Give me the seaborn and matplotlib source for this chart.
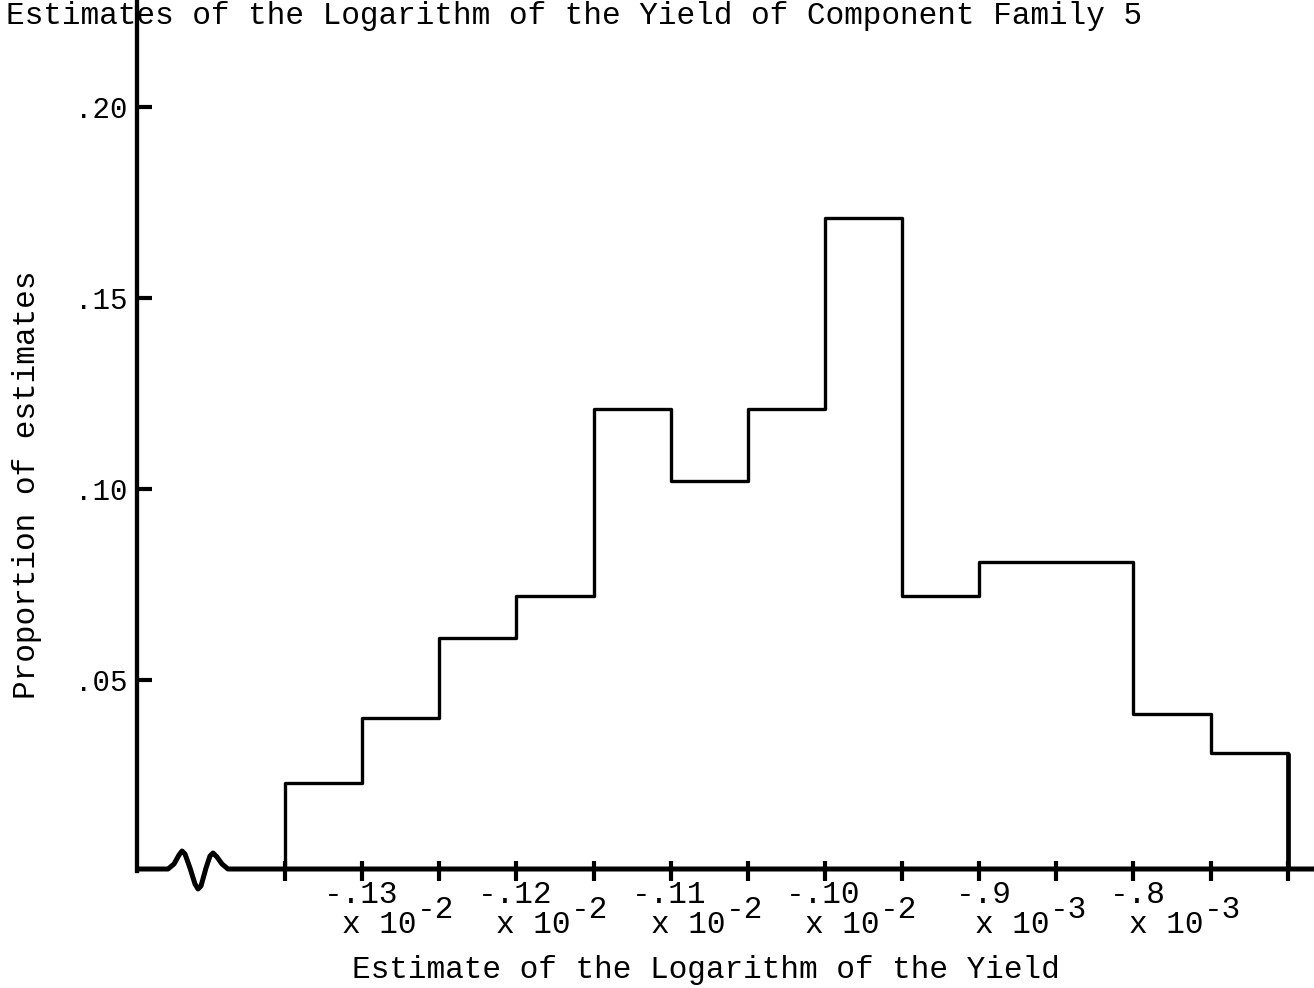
import numpy as np
import pandas as pd
import matplotlib
matplotlib.use("Agg")
import matplotlib.pyplot as plt
from matplotlib.lines import Line2D
import seaborn as sns

# proportion of estimates falling in each class
proportions = [0.023, 0.040, 0.061, 0.072, 0.121, 0.102, 0.121,
               0.171, 0.072, 0.081, 0.081, 0.041, 0.031]
bin_edges = list(range(len(proportions) + 1))    # equal-width class boundaries
bin_mids = [e + 0.5 for e in bin_edges[:-1]]

ytick_vals = [0.05, 0.10, 0.15, 0.20]
ytick_text = [".05", ".10", ".15", ".20"]

xlab_main = ["-.13", "-.12", "-.11", "-.10", "-.9", "-.8"]
xlab_exp = ["-2", "-2", "-2", "-2", "-3", "-3"]
xlab_pos = [0.5, 2.5, 4.5, 6.5, 8.7, 10.7]        # where each typed label starts

title = "Estimates of the Logarithm of the Yield of Component Family 5"
xtitle = "Estimate of the Logarithm of the Yield"
ytitle = "Proportion of estimates"

df = pd.DataFrame({"bin": bin_mids, "prop": proportions})

sns.set_theme(style="white")
plt.rcParams["font.family"] = ["Liberation Mono", "DejaVu Sans Mono"]
FS = 22.4
CH = 0.6 * FS   # monospace advance, points

W, H = 1314, 988
fig = plt.figure(figsize=(W / 100, H / 100), dpi=100)
ax = fig.add_axes([137 / W, 117 / H, 1177 / W, 871 / H])

sns.histplot(data=df, x="bin", weights="prop", bins=bin_edges,
             element="step", fill=False, color="black", linewidth=2.4, ax=ax)
# close the outline at both ends
ax.vlines([bin_edges[0], bin_edges[-1]], 0, [proportions[0], proportions[-1]],
          color="black", linewidth=[2.4, 3.4])

ax.set_xlim(-1.918, 13.34)
ax.set_ylim(0, 0.228)

for s in ["top", "right", "bottom"]:
    ax.spines[s].set_visible(False)
ax.spines["left"].set_color("black")
ax.spines["left"].set_linewidth(3.1)

# x axis with the break mark, drawn in figure pixels
sq = [(137, 869), (168, 869), (174, 864), (179, 855), (182, 851), (185, 854),
      (190, 868), (195, 884), (198, 889), (201, 886), (206, 868), (210, 856),
      (213, 853), (217, 857), (222, 864), (228, 869), (1314, 869)]
fig.add_artist(Line2D([p[0] / W for p in sq], [1 - p[1] / H for p in sq],
                      color="black", linewidth=3.6, solid_joinstyle="round",
                      solid_capstyle="butt", transform=fig.transFigure))

ax.set_xticks(bin_edges)
ax.tick_params(axis="x", bottom=True, direction="inout", length=15, width=3,
               color="black", labelbottom=False)
ax.set_yticks(ytick_vals)
ax.set_yticklabels(ytick_text)
ax.tick_params(axis="y", left=True, direction="in", length=11, width=3,
               color="black", pad=7, labelsize=21, labelcolor="black")

for txt, ex, xp in zip(xlab_main, xlab_exp, xlab_pos):
    kw = dict(xy=(xp, 0), xycoords=("data", "axes fraction"),
              textcoords="offset points", ha="left", va="baseline",
              fontsize=FS, color="black", annotation_clip=False)
    ax.annotate(txt, xytext=(0, -23), **kw)
    ax.annotate("x 10", xytext=(CH, -44.6), **kw)
    ax.annotate(ex, xytext=(5 * CH, -33.8), **kw)

ax.set_xlabel(xtitle, fontsize=FS, color="black")
ax.xaxis.label.set_va("baseline")
ax.xaxis.set_label_coords((706 - 137) / 1177, (871 - 978) / 871)
ax.set_ylabel(ytitle, fontsize=FS, color="black")
ax.yaxis.label.set_va("center")
ax.yaxis.set_label_coords((27 - 137) / 1177, (871 - 485) / 871)

fig.text(6 / W, 1 - 24 / H, title, fontsize=FS, va="baseline", ha="left",
         color="black")

fig.savefig("out.png", dpi=100)
